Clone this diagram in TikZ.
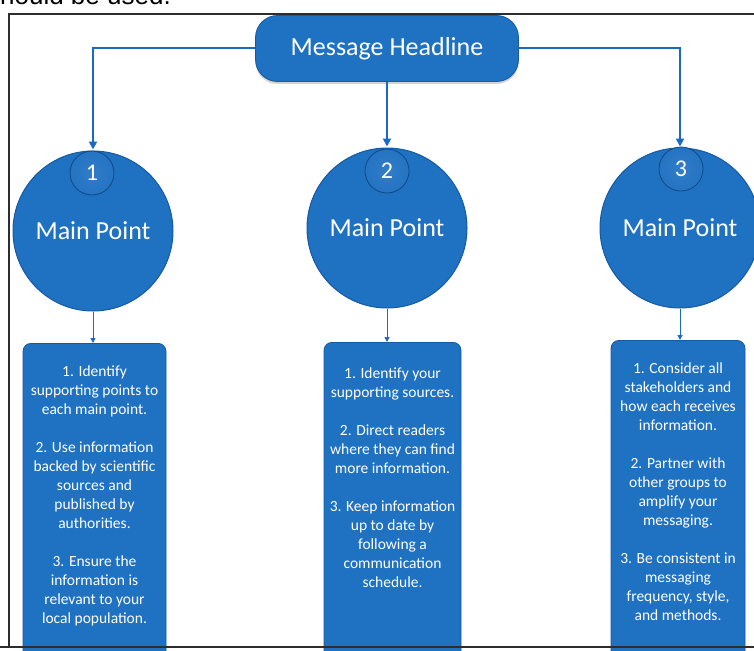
\documentclass[tikz,border=0pt]{standalone}
\usepackage{fontspec}
\setmainfont{Carlito}
\newfontfamily\arialfont{Liberation Sans}
\usetikzlibrary{arrows.meta,shadows}
\definecolor{bmain}{RGB}{31,113,194}
\definecolor{bdark}{RGB}{22,90,165}
\definecolor{bline}{RGB}{26,106,196}
\definecolor{frameg}{RGB}{45,45,45}
\pgfdeclareradialshading{bigshade}{\pgfpoint{0bp}{3bp}}{color(0bp)=(bmain); color(40bp)=(bmain); color(50bp)=(bdark)}
\pgfdeclareradialshading{numshade}{\pgfpoint{0bp}{0bp}}{color(0bp)=(bmain!92!white); color(34bp)=(bmain); color(50bp)=(bdark)}
\begin{document}
\begin{tikzpicture}[x=1pt,y=-1pt,
  headbox/.style={rectangle, rounded corners=22pt, fill=bmain, draw=bdark, line width=0.8pt,
    minimum width=263pt, minimum height=66pt, inner sep=0pt, text=white,
    font=\fontsize{26}{30}\selectfont,
    drop shadow={opacity=0.35, shadow xshift=0pt, shadow yshift=-2.5pt}},
  bigcirc/.style={circle, shading=bigshade, draw=bdark, line width=1pt, minimum size=160pt,
    inner sep=0pt, text=white, font=\fontsize{26}{30}\selectfont},
  numcirc/.style={circle, shading=numshade, draw=bdark!80!black, line width=0.8pt, minimum size=44pt,
    inner sep=0pt, text=white, font=\fontsize{24}{28}\selectfont},
  colbox/.style={rectangle, rounded corners=8pt, fill=bmain, draw=bdark, line width=0.8pt,
    minimum height=360pt, inner sep=0pt},
  boxtext/.style={anchor=north, align=center, text=white, inner sep=0pt,
    font=\fontsize{15.5}{19}\selectfont},
  conn/.style={draw=bline, line width=2pt, -{Triangle[length=8pt,width=8pt]}, shorten >=1pt},
  sconn/.style={draw=bline, line width=1pt, -{Triangle[length=5pt,width=5pt]}},
  framel/.style={draw=frameg, line width=1.5pt}]
\clip (0,0) rectangle (754,650);
% page text cut off at the top
\node[anchor=base west, inner sep=0pt, font=\arialfont\fontsize{26}{30}\selectfont] (toptext) at (-13,5) {should be used.};
% frame
\draw[framel] (9,648) -- (9,14) -- (800,14);
% headline
\node[headbox] (head) at (387,48.5) {Message Headline};
% main points
\node[bigcirc] (c1) at (93,231) {Main Point};
\node[bigcirc] (c2) at (387,228) {Main Point};
\node[bigcirc] (c3) at (680,228) {Main Point};
\node[numcirc] (n1) at (92,173) {1};
\node[numcirc] (n2) at (387,171) {2};
\node[numcirc] (n3) at (681,169) {3};
% connectors from headline
\draw[conn] (head.west) -| (c1.north);
\draw[conn] (head.south) -- (c2.north);
\draw[conn] (head.east) -| (c3.north);
% text columns
\node[colbox, minimum width=143pt, anchor=north] (b1) at (94.5,343) {};
\node[colbox, minimum width=137pt, anchor=north] (b2) at (392.5,342) {};
\node[colbox, minimum width=134pt, anchor=north] (b3) at (678,340) {};
\draw[sconn] (c1.south) -- (c1.south |- b1.north);
\draw[sconn] (c2.south) -- (c2.south |- b2.north);
\draw[sconn] (c3.south) -- (c3.south |- b3.north);
\node[boxtext] (t1) at (94.5,366) {1. Identify\\supporting points to\\each main point.\\[19pt]
  2. Use information\\backed by scientific\\sources and\\published by\\authorities.\\[19pt]
  3. Ensure the\\information is\\relevant to your\\local population.};
\node[boxtext] (t2) at (392.5,368) {1. Identify your\\supporting sources.\\[19pt]
  2. Direct readers\\where they can find\\more information.\\[19pt]
  3. Keep information\\up to date by\\following a\\communication\\schedule.};
\node[boxtext] (t3) at (678,363) {1. Consider all\\stakeholders and\\how each receives\\information.\\[19pt]
  2. Partner with\\other groups to\\amplify your\\messaging.\\[19pt]
  3. Be consistent in\\messaging\\frequency, style,\\and methods.};
% bottom frame line over the columns
\draw[framel] (0,647) -- (800,647);
\end{tikzpicture}
\end{document}
